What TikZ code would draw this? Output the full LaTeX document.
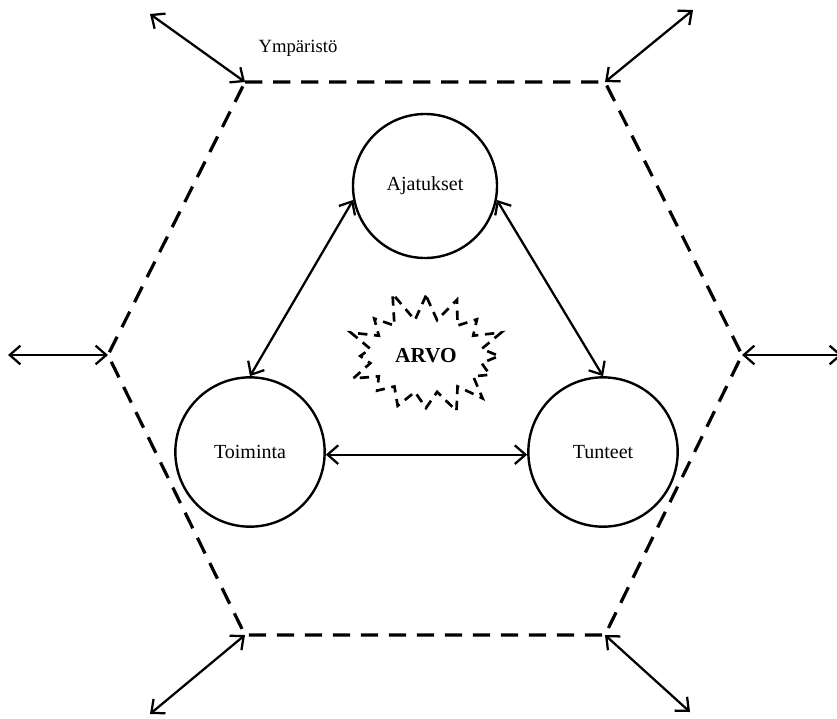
\documentclass[tikz,border=0pt]{standalone}
\usepackage{fontspec}
\setmainfont{Liberation Serif}
\usetikzlibrary{arrows.meta, positioning, shapes.symbols}

\tikzset{
  mind/.style={circle, draw, line width=1.8pt, minimum size=112pt, inner sep=0pt,
               font=\fontsize{15}{18}\selectfont},
  biarrow/.style={line width=1.7pt, {Straight Barb[length=8pt,width=14pt]}-{Straight Barb[length=8pt,width=14pt]}},
  border/.style={line width=2.4pt, dash pattern=on 13pt off 8pt}
}

\begin{document}
\begin{tikzpicture}[x=0.75pt, y=-0.75pt]
  \useasboundingbox (0,0) rectangle (837,718);

  % Hexagon corners
  \coordinate (htl) at (245,82);
  \coordinate (htr) at (605,82);
  \coordinate (hr)  at (742,355);
  \coordinate (hbr) at (605,635);
  \coordinate (hbl) at (245,635);
  \coordinate (hl)  at (108,355);

  % Outer ends of the arrows
  \coordinate (otl) at (150,14);
  \coordinate (otr) at (693,10);
  \coordinate (or)  at (842,355);
  \coordinate (obr) at (690,712);
  \coordinate (obl) at (150,714);
  \coordinate (ol)  at (8,355);

  % Environment border
  \draw[border] (htl) -- (htr) -- (hr) -- (hbr) -- (hbl) -- (hl) -- cycle;
  \node[font=\fontsize{14}{17}\selectfont] (env) at (298,48) {Ympäristö};

  \foreach \v/\e in {htl/otl, htr/otr, hr/or, hbr/obr, hbl/obl, hl/ol} {
    \draw[biarrow] (\v) -- (\e);
  }

  % Circles
  \node[mind, minimum size=108pt] (ajat) at (425,186) {Ajatukset};
  \node[mind] (toim) at (250,452) {Toiminta};
  \node[mind] (tunt) at (603,452) {Tunteet};

  % Value in the middle
  \node[starburst, draw, line width=2pt, dash pattern=on 7pt off 5pt,
        starburst points=16, starburst point height=24pt, random starburst=11,
        inner xsep=7pt, inner ysep=14pt,
        font=\bfseries\fontsize{16}{19}\selectfont] (arvo) at (426,356) {ARVO};

  % Links
  \draw[biarrow] (ajat.191) -- (toim.north);
  \draw[biarrow] (ajat.-11) -- (tunt.north);
  \draw[biarrow] (toim.-2) -- (tunt.182);
\end{tikzpicture}
\end{document}
